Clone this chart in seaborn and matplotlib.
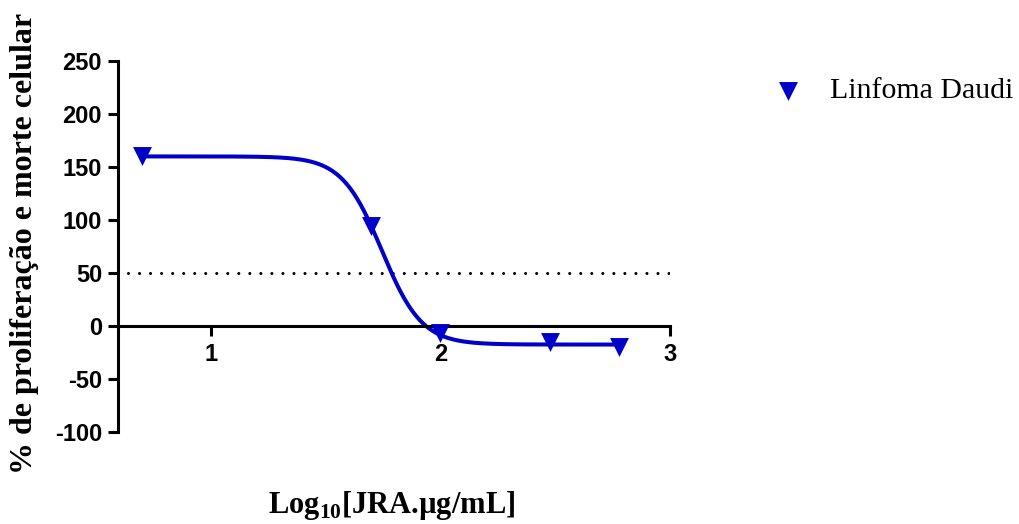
import numpy as np
import pandas as pd
import matplotlib
matplotlib.use('Agg')
import matplotlib.pyplot as plt
import seaborn as sns

# concentrações testadas (µg/mL) e resposta (%)
conc_ug_ml = [5, 50, 100, 300, 600]
resposta = [160, 94, -7, -15, -20]
serie = 'Linfoma Daudi'

# parâmetros do ajuste sigmoidal (4PL)
fit_top = 160.0
fit_bottom = -17.5
fit_logec50 = 1.745
fit_hill = 5.0

limiar = 50
y_ticks = [-100, -50, 0, 50, 100, 150, 200, 250]
x_ticks = [1, 2, 3]

azul = '#0000C8'

sns.set_style('ticks')
plt.rcParams['font.family'] = ['Liberation Sans', 'DejaVu Sans']
plt.rcParams['mathtext.fontset'] = 'custom'
plt.rcParams['mathtext.rm'] = 'Liberation Serif:bold'
plt.rcParams['axes.unicode_minus'] = False
plt.rcParams['text.color'] = 'black'

df = pd.DataFrame({'logx': np.log10(conc_ug_ml), 'y': resposta})
xc = np.linspace(df['logx'].min(), df['logx'].max(), 300)
curve = pd.DataFrame({
    'logx': xc,
    'y': fit_bottom + (fit_top - fit_bottom) / (1 + 10 ** ((xc - fit_logec50) * fit_hill)),
})

fig = plt.figure(figsize=(10.19, 5.24), dpi=100)
ax = fig.add_axes([118 / 1019, 1 - 432 / 524, 552 / 1019, 371 / 524])

ax.hlines(limiar, 0.64, 3.0, colors='black', linewidth=2.2,
          linestyles=(0, (0.01, 3.6)), capstyle='round')
sns.lineplot(data=curve, x='logx', y='y', ax=ax, color=azul, linewidth=2.9)
sns.scatterplot(data=df, x='logx', y='y', ax=ax, marker='v', s=185,
                color=azul, edgecolor=azul, linewidth=0, label=serie, zorder=5)

ax.set_xlim(0.596, 3.0)
ax.set_ylim(-100, 250)
ax.set_xticks(x_ticks)
ax.set_yticks(y_ticks)
ax.set_xlabel('')
ax.set_ylabel('')

ax.spines['right'].set_visible(False)
ax.spines['top'].set_visible(False)
ax.spines['bottom'].set_position(('data', 0))
for s in ['left', 'bottom']:
    ax.spines[s].set_linewidth(2.2)
    ax.spines[s].set_color('black')
ax.tick_params(axis='both', width=2.2, length=7.5, labelsize=17,
               colors='black', labelcolor='black')
ax.tick_params(axis='y', pad=4)
ax.tick_params(axis='x', pad=5)
for lab in ax.get_xticklabels() + ax.get_yticklabels():
    lab.set_fontweight('bold')

fig.text(25 / 1019, 1 - 243 / 524, '% de proliferação e morte celular',
         rotation=90, ha='center', va='center', fontsize=23,
         fontweight='bold', family=['Liberation Serif', 'DejaVu Serif'])
fig.text(392 / 1019, 1 - 513 / 524, r'Log$_{\mathrm{10}}$[JRA.µg/mL]',
         ha='center', va='baseline', fontsize=22, fontweight='bold',
         family=['Liberation Serif', 'DejaVu Serif'])

leg = ax.legend(loc='center left', bbox_to_anchor=(773 / 1019, 1 - 91 / 524),
                bbox_transform=fig.transFigure, frameon=False, borderpad=0,
                borderaxespad=0, handlelength=1.0, handletextpad=0.9,
                prop={'family': 'Liberation Serif', 'size': 21.5})
for t in leg.get_texts():
    t.set_color('black')

fig.savefig('out.png', dpi=100)
